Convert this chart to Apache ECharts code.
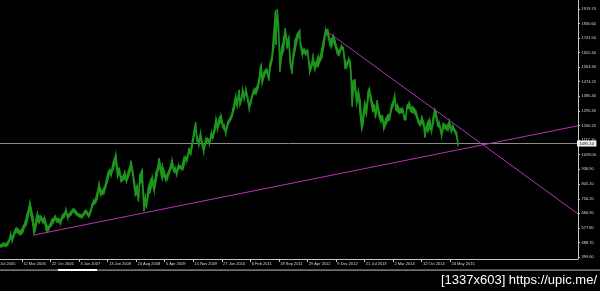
<!DOCTYPE html>
<html><head><meta charset="utf-8">
<script src="https://cdn.jsdelivr.net/npm/echarts@6/dist/echarts.min.js"></script>
<style>html,body{margin:0;padding:0;background:#000;}#c{width:600px;height:291px;}</style>
</head><body><div id="c"></div>
<script>
// Weekly-bar envelope samples (date, low, high)
const sampleDates = [
'2005-09-19','2005-10-03','2005-10-17','2005-10-31','2005-11-14','2005-11-28','2005-12-12','2005-12-26',
'2006-01-09','2006-01-23','2006-02-06','2006-02-20','2006-03-06','2006-03-20','2006-04-03','2006-04-17','2006-05-01','2006-05-12','2006-05-22','2006-06-05','2006-06-14','2006-06-26','2006-07-10','2006-07-24','2006-08-07','2006-08-21','2006-09-05','2006-09-18','2006-10-02','2006-10-16','2006-10-30','2006-11-13','2006-11-27','2006-12-11','2006-12-26',
'2007-01-08','2007-01-22','2007-02-05','2007-02-20','2007-03-05','2007-03-19','2007-04-02','2007-04-16','2007-04-30','2007-05-14','2007-05-28','2007-06-11','2007-06-25','2007-07-09','2007-07-23','2007-08-06','2007-08-16','2007-08-27','2007-09-10','2007-09-24','2007-10-08','2007-10-22','2007-11-07','2007-11-19','2007-12-03','2007-12-17','2007-12-31',
'2008-01-14','2008-01-28','2008-02-11','2008-02-25','2008-03-17','2008-03-31','2008-04-14','2008-04-28','2008-05-12','2008-05-26','2008-06-09','2008-06-23','2008-07-07','2008-07-15','2008-07-28','2008-08-11','2008-08-18','2008-09-01','2008-09-11','2008-09-22','2008-10-10','2008-10-24','2008-11-03','2008-11-13','2008-11-28','2008-12-15','2008-12-29',
'2009-01-12','2009-01-26','2009-02-09','2009-02-20','2009-03-09','2009-03-18','2009-03-30','2009-04-13','2009-04-27','2009-05-11','2009-05-26','2009-06-03','2009-06-15','2009-06-29','2009-07-08','2009-07-20','2009-08-03','2009-08-17','2009-08-31','2009-09-14','2009-09-28','2009-10-12','2009-10-26','2009-11-09','2009-11-23','2009-12-03','2009-12-14','2009-12-28',
'2010-01-11','2010-01-25','2010-02-05','2010-02-22','2010-03-08','2010-03-22','2010-04-05','2010-04-19','2010-05-03','2010-05-13','2010-05-24','2010-06-07','2010-06-21','2010-07-05','2010-07-19','2010-07-28','2010-08-09','2010-08-23','2010-09-06','2010-09-20','2010-10-04','2010-10-14','2010-10-25','2010-11-09','2010-11-16','2010-11-29','2010-12-07','2010-12-20',
'2011-01-03','2011-01-17','2011-01-28','2011-02-14','2011-02-28','2011-03-14','2011-03-28','2011-04-11','2011-04-25','2011-05-02','2011-05-09','2011-05-23','2011-06-06','2011-06-20','2011-06-30','2011-07-11','2011-07-25','2011-08-08','2011-08-22','2011-08-26','2011-09-06','2011-09-15','2011-09-26','2011-10-10','2011-10-24','2011-11-07','2011-11-21','2011-12-05','2011-12-16','2011-12-29',
'2012-01-09','2012-01-23','2012-02-06','2012-02-28','2012-03-05','2012-03-19','2012-04-02','2012-04-16','2012-04-30','2012-05-14','2012-05-16','2012-05-28','2012-06-11','2012-06-25','2012-07-09','2012-07-23','2012-08-06','2012-08-20','2012-09-04','2012-09-17','2012-10-05','2012-10-22','2012-11-05','2012-11-19','2012-12-03','2012-12-17','2012-12-28',
'2013-01-07','2013-01-21','2013-02-04','2013-02-18','2013-03-04','2013-03-18','2013-04-01','2013-04-15','2013-04-22','2013-05-06','2013-05-20','2013-06-03','2013-06-17','2013-06-28','2013-07-08','2013-07-22','2013-08-05','2013-08-19','2013-08-28','2013-09-09','2013-09-23','2013-10-07','2013-10-15','2013-10-28','2013-11-11','2013-11-25','2013-12-09','2013-12-19',
'2014-01-06','2014-01-20','2014-02-03','2014-02-17','2014-03-03','2014-03-14','2014-03-24','2014-04-07','2014-04-21','2014-05-05','2014-05-19','2014-05-30','2014-06-09','2014-06-20','2014-07-07','2014-07-21','2014-08-04','2014-08-18','2014-09-01','2014-09-15','2014-09-29','2014-10-14','2014-10-28','2014-11-07','2014-11-17','2014-12-01','2014-12-15','2014-12-29',
'2015-01-12','2015-01-22','2015-02-02','2015-02-16','2015-03-02','2015-03-17','2015-03-30','2015-04-13','2015-04-27','2015-05-11','2015-05-18','2015-06-01','2015-06-15','2015-06-29','2015-07-13','2015-07-24'
];
const sampleLows = [
460,462,468,466,468,487,515,496,
530,553,550,538,540,555,585,605,648,700,650,600,543,575,620,610,630,610,608,565,560,580,595,610,630,615,612,
603,635,645,670,636,650,660,680,670,658,650,645,641,655,670,660,648,660,695,725,730,755,810,780,785,795,835,
870,910,900,940,980,890,915,860,870,880,860,890,920,960,900,810,775,790,740,850,860,681,720,705,780,810,850,
800,860,920,960,900,880,900,870,880,915,945,955,925,920,905,935,945,935,950,990,990,1040,1025,1090,1140,1190,1110,1085,
1125,1080,1045,1100,1110,1090,1130,1130,1170,1210,1180,1215,1230,1195,1180,1157,1195,1225,1245,1275,1315,1350,1320,1390,1330,1360,1400,1370,
1410,1350,1309,1355,1400,1400,1410,1450,1500,1540,1462,1500,1530,1520,1480,1550,1600,1680,1820,1700,1850,1780,1535,1630,1660,1770,1680,1700,1580,1523,
1610,1665,1720,1770,1690,1640,1650,1640,1655,1550,1527,1555,1590,1550,1570,1570,1600,1620,1690,1760,1760,1700,1690,1720,1690,1650,1640,
1645,1680,1665,1555,1565,1600,1555,1321,1400,1440,1338,1380,1270,1180,1206,1300,1270,1370,1400,1350,1290,1300,1250,1320,1260,1230,1240,1180,
1215,1235,1240,1300,1330,1360,1300,1290,1280,1285,1285,1240,1240,1310,1310,1290,1285,1280,1260,1225,1206,1220,1200,1132,1180,1170,1190,1170,
1220,1280,1255,1200,1195,1142,1180,1190,1177,1185,1205,1170,1180,1165,1140,1077
];
const sampleHighs = [
476,475,486,480,487,500,542,520,
552,575,573,560,565,585,610,650,690,730,700,650,580,615,665,650,650,635,640,605,580,600,625,635,650,635,635,
625,655,665,690,655,665,680,693,690,675,665,660,655,670,685,677,662,675,715,745,750,790,845,815,805,825,860,
915,935,930,975,1033,940,945,890,895,920,890,925,955,990,930,860,815,840,770,905,935,740,770,740,830,870,890,
840,920,950,1006,940,960,930,895,910,935,975,990,945,945,925,960,960,950,1000,1015,1010,1065,1055,1120,1180,1227,1140,1110,
1162,1100,1075,1125,1125,1110,1160,1150,1210,1249,1215,1250,1265,1215,1200,1175,1215,1240,1260,1300,1350,1388,1345,1424,1360,1385,1431,1390,
1425,1375,1335,1375,1415,1430,1440,1475,1560,1577,1510,1530,1550,1550,1505,1590,1632,1780,1912,1800,1920,1830,1630,1680,1730,1803,1720,1750,1620,1560,
1650,1730,1760,1790,1720,1670,1675,1660,1670,1590,1560,1580,1625,1580,1600,1630,1620,1680,1740,1790,1796,1730,1740,1755,1720,1680,1665,
1670,1695,1685,1605,1585,1616,1600,1430,1480,1487,1380,1420,1360,1240,1260,1348,1315,1420,1434,1385,1340,1330,1290,1361,1295,1260,1267,1215,
1250,1270,1270,1330,1355,1392,1330,1330,1305,1310,1300,1260,1260,1330,1345,1315,1320,1305,1285,1245,1225,1255,1230,1175,1200,1230,1238,1190,
1265,1307,1290,1230,1215,1165,1220,1210,1205,1220,1232,1195,1205,1180,1165,1105
];
// Trend lines (date, price) endpoints
const trendUp = [['2006-06-14', 534.5], ['2018-02-20', 1204]];
const trendDown = [['2012-10-08', 1777], ['2018-02-20', 664]];
const currentPrice = 1095.10;
// Axis tick labels
const yTickLabels = ['1919.70','1830.60','1741.50','1652.40','1563.30','1474.20','1385.40','1295.30','1206.20','1117.10','1028.00','936.90','845.10','756.20','666.90','577.80','488.70','399.60'];
const xTickLabels = ['31 Jul 2005','12 Mar 2006','22 Oct 2006','3 Jun 2007','13 Jan 2008','24 Aug 2008','5 Apr 2009','15 Nov 2009','27 Jun 2010','6 Feb 2011','18 Sep 2011','29 Apr 2012','9 Dec 2012','21 Jul 2013','2 Mar 2014','12 Oct 2014','24 May 2015'];

const MON = {Jan:0,Feb:1,Mar:2,Apr:3,May:4,Jun:5,Jul:6,Aug:7,Sep:8,Oct:9,Nov:10,Dec:11};
function ts(s){ const p=s.split('-').map(Number); return Date.UTC(p[0],p[1]-1,p[2]); }
function tsLabel(s){ const p=s.split(' '); return Date.UTC(+p[2], MON[p[1]], +p[0]); }
const xTickValues = xTickLabels.map(tsLabel);
const yTickValues = yTickLabels.map(parseFloat);
function nearest(arr, v){ let best=0; for(let i=0;i<arr.length;i++){ if(Math.abs(arr[i]-v)<Math.abs(arr[best]-v)) best=i; } return best; }

const bandData = [];
for (let i=0;i<sampleDates.length-1;i++){
  bandData.push([ts(sampleDates[i]), sampleLows[i], sampleHighs[i], ts(sampleDates[i+1]), sampleLows[i+1], sampleHighs[i+1]]);
}
const GREEN = '#1e961e';
const PINK = '#b535b5';
const AXIS = '#c8c8c8';
const FONT = 'Liberation Sans';

const chart = echarts.init(document.getElementById('c'), null, {renderer:'canvas'});
chart.setOption({
  backgroundColor:'#000',
  animation:false,
  grid:{left:-6.55, right:22, top:0, bottom:32, containLabel:false, outerBoundsMode:'none'},
  xAxis:{
    type:'value', min: ts('2005-07-31'), max: ts('2018-02-20'),
    splitLine:{show:false},
    axisLine:{show:true, lineStyle:{color:AXIS, width:1}},
    axisTick:{show:true, customValues:xTickValues, length:3, lineStyle:{color:AXIS}},
    axisLabel:{customValues:xTickValues, color:'#d8d8d8', fontSize:4, fontFamily:FONT, align:'left', margin:3, padding:[0,0,0,1.3],
      formatter:function(v){ return xTickLabels[nearest(xTickValues, v)]; }}
  },
  yAxis:{
    type:'value', position:'right', min:387.34, max:1974.84,
    splitLine:{show:false},
    axisLine:{show:true, lineStyle:{color:AXIS, width:1}},
    axisTick:{show:true, customValues:yTickValues, length:2, lineStyle:{color:AXIS}},
    axisLabel:{customValues:yTickValues, color:'#d8d8d8', fontSize:4, fontFamily:FONT, margin:3.5,
      formatter:function(v){ return yTickLabels[nearest(yTickValues, v)]; }}
  },
  series:[
    {
      type:'custom', name:'XAUUSD', data:bandData, z:3,
      encode:{x:[0,3], y:[1,2,4,5]},
      renderItem:function(params, api){
        const a = api.coord([api.value(0), api.value(2)]);
        const b = api.coord([api.value(3), api.value(5)]);
        const c = api.coord([api.value(3), api.value(4)]);
        const d = api.coord([api.value(0), api.value(1)]);
        return {type:'polygon', shape:{points:[a,b,c,d]}, style:{fill:GREEN, stroke:GREEN, lineWidth:1.2}};
      },
      markLine:{
        silent:true, symbol:['none','none'], z:2,
        data:[{yAxis:currentPrice}],
        lineStyle:{color:'#8c8c8c', type:'solid', width:1},
        label:{show:true, position:'end', distance:-1, formatter:currentPrice.toFixed(2), color:'#000', backgroundColor:'#f0f0f0', fontSize:4, fontFamily:FONT, padding:[1,2.5,1,2.5]}
      }
    },
    {type:'line', data:trendUp.map(p=>[ts(p[0]),p[1]]), symbol:'none', z:4, lineStyle:{color:PINK, width:1}},
    {type:'line', data:trendDown.map(p=>[ts(p[0]),p[1]]), symbol:'none', z:4, lineStyle:{color:PINK, width:1}}
  ],
  graphic:[
    {type:'rect', shape:{x:0, y:269.5, width:600, height:1.2}, style:{fill:'#9a9a9a'}},
    {type:'rect', shape:{x:58, y:269, width:39, height:2}, style:{fill:'#ffffff'}},
    {type:'text', right:3, top:274, style:{text:'[1337x603] https://upic.me/', fill:'#ffffff', fontSize:13, fontFamily:'Liberation Sans'}}
  ]
});
</script></body></html>
